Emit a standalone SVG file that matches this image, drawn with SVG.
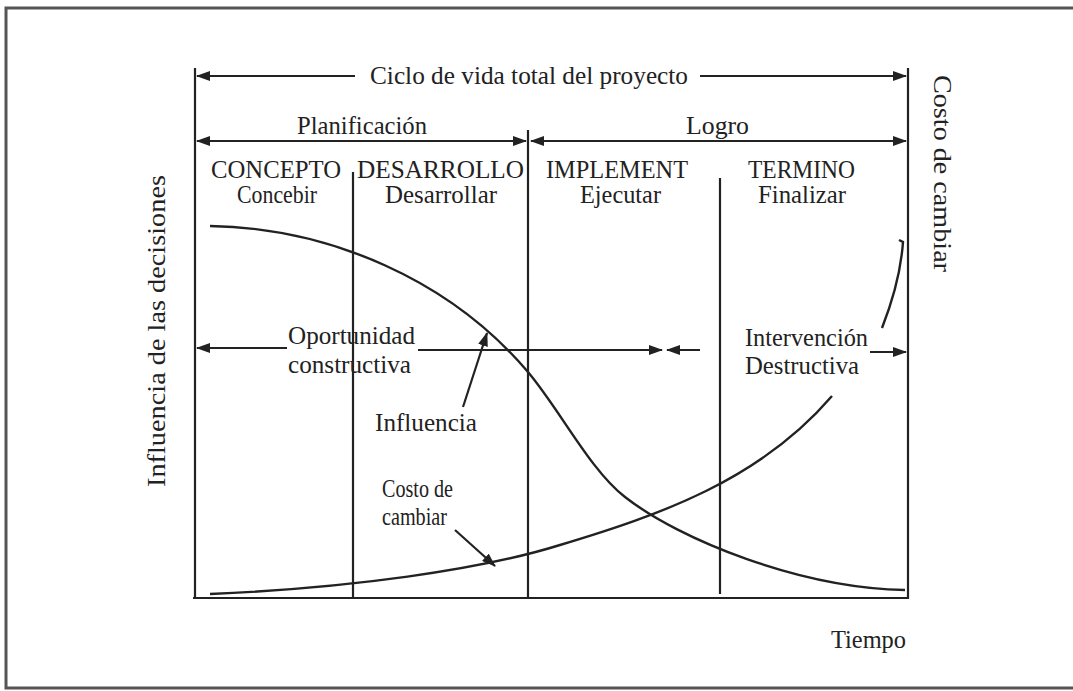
<svg xmlns="http://www.w3.org/2000/svg" width="1073" height="691" viewBox="0 0 1073 691">
<style>
.t{font-family:"Liberation Serif","Times New Roman",serif;font-size:25px;fill:#222}
.ln{stroke:#222;stroke-width:2.2;fill:none}
.cv{stroke:#222;stroke-width:2.4;fill:none}
.fr{stroke:#555;stroke-width:3;fill:none}
</style>
<defs>
<marker id="ah" viewBox="0 0 14 10" refX="13" refY="5" markerWidth="14" markerHeight="10" markerUnits="userSpaceOnUse" orient="auto-start-reverse">
<path d="M0,0 L14,5 L0,10 Z" fill="#222"/>
</marker>
</defs>
<rect width="1073" height="691" fill="#fff"/>
<g id="frame">
<path class="fr" d="M1073,8 H6 V688 H1073"/>
</g>
<g id="axes">
<line class="ln" x1="195" y1="68" x2="195" y2="599"/>
<line class="ln" x1="908" y1="68" x2="908" y2="599"/>
<line class="ln" x1="193" y1="598" x2="909" y2="598"/>
<line class="ln" x1="528" y1="130" x2="528" y2="598"/>
<line class="ln" x1="353" y1="172" x2="353" y2="598"/>
<line class="ln" x1="720" y1="178" x2="720" y2="594"/>
</g>
<g id="connectors">
<line class="ln" x1="355" y1="76" x2="197" y2="76" marker-end="url(#ah)"/>
<line class="ln" x1="700" y1="76" x2="906" y2="76" marker-end="url(#ah)"/>
<line class="ln" x1="197" y1="141" x2="526" y2="141" marker-start="url(#ah)" marker-end="url(#ah)"/>
<line class="ln" x1="531" y1="141" x2="906" y2="141" marker-start="url(#ah)" marker-end="url(#ah)"/>
<line class="ln" x1="287" y1="348" x2="197" y2="348" marker-end="url(#ah)"/>
<line class="ln" x1="418" y1="350" x2="662" y2="350" marker-end="url(#ah)"/>
<line class="ln" x1="700" y1="350" x2="667" y2="350" marker-end="url(#ah)"/>
<line class="ln" x1="870" y1="352" x2="906" y2="352" marker-end="url(#ah)"/>
<line class="ln" x1="463" y1="407" x2="487" y2="333" marker-end="url(#ah)"/>
<line class="ln" x1="455" y1="530" x2="495" y2="566" marker-end="url(#ah)"/>
</g>
<g id="curves">
<path class="cv" d="M210,226 C330,228 450,280 528,372 C560,410 590,470 625,497 C680,540 800,588 905,590"/>
<path class="cv" d="M210,594 C350,588 480,570 560,545 C660,515 760,480 832,396"/>
<path class="cv" d="M882,328 C893,300 901,270 903,242 l-4,-2"/>
</g>
<g id="labels">
<text class="t" x="370" y="84" textLength="318" lengthAdjust="spacingAndGlyphs">Ciclo de vida total del proyecto</text>
<text class="t" x="297" y="134" textLength="130" lengthAdjust="spacingAndGlyphs">Planificación</text>
<text class="t" x="686" y="134" textLength="63" lengthAdjust="spacingAndGlyphs">Logro</text>
<text class="t" x="211" y="178" textLength="130" lengthAdjust="spacingAndGlyphs">CONCEPTO</text>
<text class="t" x="357" y="178" textLength="167" lengthAdjust="spacingAndGlyphs">DESARROLLO</text>
<text class="t" x="546" y="178" textLength="142" lengthAdjust="spacingAndGlyphs">IMPLEMENT</text>
<text class="t" x="748" y="178" textLength="107" lengthAdjust="spacingAndGlyphs">TERMINO</text>
<text class="t" x="237" y="203" textLength="80" lengthAdjust="spacingAndGlyphs">Concebir</text>
<text class="t" x="385" y="203" textLength="112" lengthAdjust="spacingAndGlyphs">Desarrollar</text>
<text class="t" x="580" y="203" textLength="81" lengthAdjust="spacingAndGlyphs">Ejecutar</text>
<text class="t" x="758" y="203" textLength="88" lengthAdjust="spacingAndGlyphs">Finalizar</text>
<text class="t" x="288" y="344" textLength="127" lengthAdjust="spacingAndGlyphs">Oportunidad</text>
<text class="t" x="288" y="373" textLength="123" lengthAdjust="spacingAndGlyphs">constructiva</text>
<text class="t" x="745" y="346" textLength="123" lengthAdjust="spacingAndGlyphs">Intervención</text>
<text class="t" x="745" y="374" textLength="114" lengthAdjust="spacingAndGlyphs">Destructiva</text>
<text class="t" x="375" y="431" textLength="102" lengthAdjust="spacingAndGlyphs">Influencia</text>
<text class="t" x="382" y="497" textLength="71" lengthAdjust="spacingAndGlyphs">Costo de</text>
<text class="t" x="382" y="525" textLength="65" lengthAdjust="spacingAndGlyphs">cambiar</text>
<text class="t" x="831" y="648" textLength="75" lengthAdjust="spacingAndGlyphs">Tiempo</text>
<text class="t" transform="translate(165,487) rotate(-90)" textLength="312" lengthAdjust="spacingAndGlyphs">Influencia de las decisiones</text>
<text class="t" transform="translate(934,75) rotate(90)" textLength="197" lengthAdjust="spacingAndGlyphs">Costo de cambiar</text>
</g>
</svg>
